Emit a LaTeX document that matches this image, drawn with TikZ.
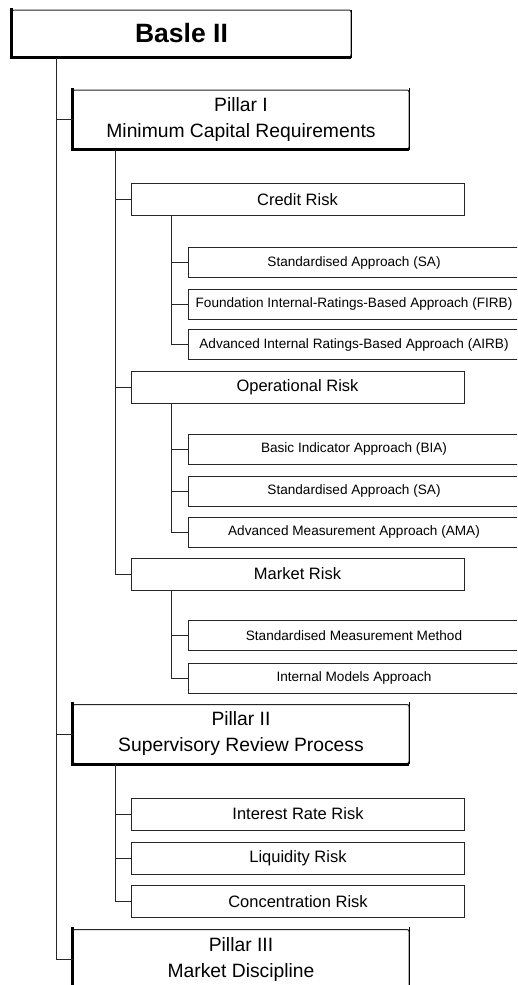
\documentclass[tikz,border=0pt]{standalone}
\usepackage{fontspec}
\setmainfont{Liberation Sans}
\usetikzlibrary{positioning}
\begin{document}
\begin{tikzpicture}[x=1pt,y=-1pt,
  box/.style={draw=black!85, fill=white, line width=1pt, inner sep=0pt, anchor=center},
  topbox/.style={box, minimum width=339pt, minimum height=47pt, rounded corners=2pt,
     font=\fontsize{26.5}{30}\selectfont\bfseries},
  pillar/.style={box, minimum width=336pt, minimum height=59pt, rounded corners=2pt, align=center,
     font=\fontsize{19.3}{26}\selectfont},
  midbox/.style={box, minimum width=333pt, minimum height=32pt,
     font=\fontsize{16.5}{19}\selectfont},
  smallbox/.style={box, minimum width=332pt, minimum height=30pt,
     font=\fontsize{13.6}{16}\selectfont},
  thick edge/.style={line width=3pt, black},
  link/.style={draw=black!85, line width=1pt}
]
\useasboundingbox (0,0) rectangle (517,985);
\clip (0,0) rectangle (517,985);

% nodes
\node[topbox] (basle) at (181.5,33.5) {Basle II};
\node[pillar] (p1) at (241,119.5) {Pillar I\\Minimum Capital Requirements};
\node[midbox] (credit) at (297.5,199.5) {Credit Risk};
\node[smallbox] (sa1) at (354,262.5) {Standardised Approach (SA)};
\node[smallbox] (firb) at (354,304) {Foundation Internal-Ratings-Based Approach (FIRB)};
\node[smallbox] (airb) at (354,344.5) {Advanced Internal Ratings-Based Approach (AIRB)};
\node[midbox] (op) at (297.5,387) {Operational Risk};
\node[smallbox] (bia) at (354,449) {Basic Indicator Approach (BIA)};
\node[smallbox] (sa2) at (354,491) {Standardised Approach (SA)};
\node[smallbox] (ama) at (354,532) {Advanced Measurement Approach (AMA)};
\node[midbox] (market) at (297.5,574) {Market Risk};
\node[smallbox] (smm) at (354,635.5) {Standardised Measurement Method};
\node[smallbox] (ima) at (354,678) {Internal Models Approach};
\node[pillar] (p2) at (241,734) {Pillar II\\Supervisory Review Process};
\node[midbox] (irr) at (298,814) {Interest Rate Risk};
\node[midbox] (liq) at (298,858) {Liquidity Risk};
\node[midbox] (conc) at (298,901.5) {Concentration Risk};
\node[pillar] (p3) at (241,959) {Pillar III\\Market Discipline};

% thick shadow edges
\draw[thick edge] ([yshift=2pt]basle.north west) -- (basle.south west) -- ([xshift=-1pt]basle.south east);
\draw[line width=1.6pt] (basle.north east) -- (basle.south east);
\foreach \n in {p1,p2,p3}{
  \draw[thick edge] ([yshift=2pt]\n.north west) -- (\n.south west) -- ([xshift=-1pt]\n.south east);
  \draw[line width=1.8pt] ([yshift=2pt]\n.north east) -- (\n.south east);
}

% connectors
\coordinate (t0) at ([xshift=45pt]basle.south west);
\draw[link] (t0) |- (p1.west);
\draw[link] (t0) |- (p2.west);
\draw[link] (t0) |- (p3.west);

\coordinate (t1) at ([xshift=43pt]p1.south west);
\draw[link] (t1) |- (credit.west);
\draw[link] (t1) |- (op.west);
\draw[link] (t1) |- (market.west);

\coordinate (tc) at ([xshift=41pt]credit.south west);
\draw[link] (tc) |- (sa1.west);
\draw[link] (tc) |- (firb.west);
\draw[link] (tc) |- (airb.west);

\coordinate (to) at ([xshift=41pt]op.south west);
\draw[link] (to) |- (bia.west);
\draw[link] (to) |- (sa2.west);
\draw[link] (to) |- (ama.west);

\coordinate (tm) at ([xshift=41pt]market.south west);
\draw[link] (tm) |- (smm.west);
\draw[link] (tm) |- (ima.west);

\coordinate (t2) at ([xshift=43pt]p2.south west);
\draw[link] (t2) |- (irr.west);
\draw[link] (t2) |- (liq.west);
\draw[link] (t2) |- (conc.west);
\end{tikzpicture}
\end{document}
